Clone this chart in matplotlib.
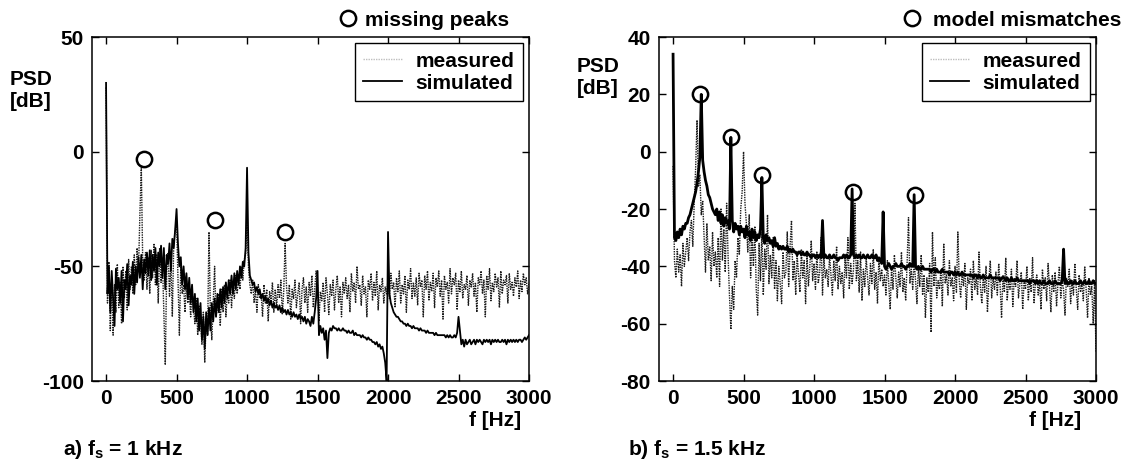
import numpy as np
import matplotlib
matplotlib.use("Agg")
import matplotlib.pyplot as plt

plt.rcParams['font.family'] = ['Liberation Sans', 'DejaVu Sans']
plt.rcParams['font.weight'] = 'bold'
plt.rcParams['font.size'] = 15
plt.rcParams['axes.unicode_minus'] = False

# --------------------------------------------------
# Datos (PSD en dB, rejilla de 10 Hz de 0 a 3000 Hz)
# --------------------------------------------------
freq_hz = np.arange(0, 3001, 10)

# a) fs = 1 kHz
meas_a = [
    28, -66, -48, -78, -55, -80, -58, -70, -49, -68,
    -57, -75, -50, -64, -52, -69, -47, -60, -50, -62,
    -45, -58, -42, -52, -27, -7, -48, -56, -44, -60,
    -46, -62, -43, -55, -40, -58, -45, -66, -42, -57,
    -48, -70, -93, -52, -44, -63, -47, -72, -40, -35,
    -30, -55, -80, -50, -62, -58, -70, -56, -66, -60,
    -72, -60, -68, -75, -64, -80, -67, -73, -84, -70,
    -92, -74, -80, -35, -70, -82, -66, -50, -72, -68,
    -62, -76, -60, -70, -58, -72, -61, -66, -56, -68,
    -58, -64, -54, -62, -55, -60, -50, -56, -47, -45,
    -30, -50, -58, -62, -56, -66, -60, -70, -58, -64,
    -62, -72, -58, -66, -60, -74, -61, -65, -57, -70,
    -60, -68, -58, -64, -56, -71, -61, -40, -59, -66,
    -58, -73, -60, -64, -56, -68, -62, -57, -75, -60,
    -55, -66, -59, -70, -57, -63, -54, -68, -60, -52,
    -58, -74, -61, -65, -57, -70, -55, -62, -71, -58,
    -63, -56, -69, -60, -54, -66, -59, -72, -57, -62,
    -55, -64, -58, -70, -53, -61, -57, -66, -50, -60,
    -58, -67, -54, -62, -59, -72, -56, -60, -53, -65,
    -57, -63, -52, -69, -58, -61, -55, -66, -59, -62,
    -56, -64, -53, -60, -57, -68, -55, -61, -52, -66,
    -58, -62, -54, -70, -56, -60, -51, -64, -57, -63,
    -55, -67, -53, -59, -56, -72, -54, -60, -52, -65,
    -57, -61, -53, -68, -55, -59, -52, -63, -56, -73,
    -54, -60, -57, -66, -51, -62, -55, -58, -53, -69,
    -56, -61, -52, -64, -58, -60, -54, -67, -56, -59,
    -53, -63, -57, -70, -55, -58, -52, -62, -56, -72,
    -54, -60, -51, -65, -57, -61, -53, -59, -55, -68,
    -52, -62, -56, -58, -54, -66, -53, -60, -57, -63,
    -55, -59, -52, -64, -56, -61, -53, -58, -55, -62,
    -57,
]
sim_a = [
    30, -62, -50, -70, -52, -64, -76, -51, -60, -55,
    -66, -52, -74, -56, -60, -49, -67, -54, -58, -48,
    -62, -50, -57, -46, -55, -45, -60, -47, -53, -44,
    -54, -43, -56, -45, -52, -42, -58, -44, -50, -41,
    -55, -42, -60, -45, -49, -40, -52, -38, -42, -34,
    -25, -40, -50, -46, -58, -50, -60, -53, -64, -55,
    -66, -58, -70, -62, -74, -64, -78, -66, -82, -72,
    -86, -70, -80, -68, -78, -66, -74, -64, -72, -62,
    -70, -60, -68, -59, -66, -57, -64, -56, -62, -54,
    -62, -53, -60, -52, -58, -50, -55, -48, -50, -42,
    -7, -44, -54, -56, -58, -57, -61, -59, -62, -60,
    -64, -62, -65, -63, -66, -64, -67, -65, -68, -66,
    -68, -67, -69, -67, -70, -68, -70, -69, -71, -69,
    -71, -70, -72, -70, -72, -71, -73, -71, -73, -72,
    -74, -72, -75, -73, -74, -76, -72, -75, -70, -64,
    -52, -80, -76, -79, -77, -82, -78, -90, -79, -77,
    -78, -76, -77, -77, -78, -77, -78, -78, -77, -78,
    -78, -79, -78, -79, -79, -78, -80, -79, -80, -80,
    -80, -81, -80, -81, -81, -82, -81, -82, -82, -83,
    -83, -84, -83, -85, -84, -86, -85, -88, -92, -100,
    -35, -62, -66, -68, -70, -71, -72, -72, -73, -74,
    -74, -75, -75, -76, -75, -76, -76, -77, -76, -77,
    -77, -77, -78, -77, -78, -78, -78, -79, -78, -79,
    -79, -79, -79, -80, -79, -80, -80, -80, -80, -80,
    -80, -81, -80, -81, -80, -81, -81, -80, -81, -79,
    -72, -78, -84, -82, -85, -82, -84, -83, -82, -84,
    -83, -82, -84, -82, -83, -82, -83, -84, -82, -83,
    -82, -83, -82, -84, -82, -83, -82, -83, -82, -83,
    -83, -82, -83, -82, -84, -82, -83, -82, -83, -82,
    -83, -82, -83, -82, -82, -83, -82, -81, -82, -81,
    -80,
]
peaks_a_hz = [272, 773, 1270]
peaks_a_db = [-3, -30, -35]

# b) fs = 1.5 kHz
meas_b = [
    -5, -38, -44, -34, -42, -36, -47, -32, -40, -35,
    -30, -38, -28, -24, -33, -18, -6, 11, -12, -8,
    -22, -17, -30, -42, -25, -38, -33, -45, -28, -40,
    -35, -44, -30, -47, -20, -38, -27, -42, -18, -36,
    -50, -62, -47, -55, -38, -44, -30, -36, -20, -14,
    0, -18, -25, -35, -22, -44, -30, -40, -26, -48,
    -57, -32, -45, -28, -50, -34, -41, -22, -46, -36,
    -44, -30, -48, -38, -52, -40, -46, -53, -35, -44,
    -42, -28, -47, -33, -24, -45, -38, -50, -36, -43,
    -49, -34, -44, -38, -53, -36, -47, -40, -31, -45,
    -39, -48, -35, -46, -42, -30, -50, -37, -44, -41,
    -47, -36, -43, -50, -38, -45, -33, -48, -40, -46,
    -42, -51, -37, -44, -30, -48, -39, -46, -41, -18,
    -45, -38, -49, -35, -52, -41, -47, -37, -44, -50,
    -39, -46, -34, -48, -42, -53, -37, -45, -41, -47,
    -43, -50, -38, -46, -55, -40, -48, -36, -44, -51,
    -42, -47, -35, -49, -44, -52, -39, -23, -46, -41,
    -48, -38, -45, -53, -40, -47, -36, -50, -43, -58,
    -44, -49, -39, -63, -28, -47, -37, -51, -45, -48,
    -41, -54, -32, -46, -43, -50, -38, -47, -44, -52,
    -40, -49, -28, -45, -51, -42, -47, -39, -55, -44,
    -46, -41, -52, -38, -48, -44, -50, -35, -47, -53,
    -43, -49, -40, -56, -45, -38, -51, -44, -48, -42,
    -50, -39, -47, -58, -43, -49, -37, -52, -45, -48,
    -41, -54, -44, -47, -38, -51, -46, -42, -55, -45,
    -48, -40, -52, -44, -49, -37, -53, -46, -43, -50,
    -45, -55, -41, -48, -44, -52, -39, -47, -56, -43,
    -49, -42, -54, -46, -40, -51, -45, -48, -57, -44,
    -47, -41, -53, -45, -50, -39, -48, -55, -43, -49,
    -46, -52, -40, -48, -58, -44, -50, -47, -60, -45,
    -70,
]
sim_b = [
    34, -30, -31, -28, -30, -27, -29, -26, -27, -25,
    -25, -23, -22, -20, -18, -16, -14, -11, -7, -2,
    20, -3, -7, -10, -12, -15, -16, -18, -20, -21,
    -22, -20, -24, -21, -25, -22, -26, -23, -25, -24,
    -27, 5, -24, -28, -25, -27, -26, -29, -26, -28,
    -27, -30, -26, -29, -28, -31, -27, -30, -28, -31,
    -29, -30, -27, -9, -30, -32, -29, -31, -30, -32,
    -31, -33, -30, -33, -32, -34, -33, -34, -33, -34,
    -34, -33, -35, -34, -35, -34, -35, -35, -36, -35,
    -35, -36, -35, -36, -36, -35, -36, -36, -37, -36,
    -36, -37, -36, -37, -36, -37, -24, -37, -36, -37,
    -37, -36, -37, -37, -36, -37, -37, -38, -37, -37,
    -37, -36, -37, -36, -37, -37, -36, -13, -36, -37,
    -36, -37, -36, -37, -37, -36, -37, -37, -36, -37,
    -37, -36, -37, -37, -36, -38, -37, -38, -39, -21,
    -40, -41, -40, -39, -40, -41, -40, -40, -39, -40,
    -40, -40, -39, -40, -40, -41, -40, -40, -39, -40,
    -40, -15, -40, -41, -40, -41, -41, -40, -41, -41,
    -41, -41, -41, -42, -41, -41, -42, -41, -42, -42,
    -42, -41, -42, -42, -42, -42, -43, -42, -42, -43,
    -42, -43, -42, -43, -43, -42, -43, -43, -43, -43,
    -43, -43, -43, -44, -43, -43, -44, -43, -44, -44,
    -43, -44, -44, -44, -44, -43, -44, -44, -44, -44,
    -44, -44, -45, -44, -44, -44, -45, -44, -45, -45,
    -44, -45, -45, -45, -44, -45, -45, -45, -45, -45,
    -45, -45, -45, -46, -45, -45, -45, -46, -45, -46,
    -45, -46, -46, -45, -46, -46, -46, -45, -46, -46,
    -46, -45, -46, -46, -46, -46, -45, -34, -46, -45,
    -46, -46, -45, -46, -46, -45, -46, -46, -46, -45,
    -46, -46, -45, -46, -46, -45, -46, -46, -45, -46,
    -46,
]
peaks_b_hz = [194, 413, 629, 1275, 1714]
peaks_b_db = [20, 5, -8, -14, -15]

# --------------------------------------------------
# Figura
# --------------------------------------------------
fig = plt.figure(figsize=(11.34, 4.61), dpi=100)
ax_a = fig.add_axes([0.0811, 0.1735, 0.3854, 0.7462])
ax_b = fig.add_axes([0.5811, 0.1735, 0.3854, 0.7462])

panels = [
    (ax_a, meas_a, sim_a, peaks_a_hz, peaks_a_db, "missing peaks",
     (-100, 50), [-100, -50, 0, 50], 1.3, 509, 0.3),
    (ax_b, meas_b, sim_b, peaks_b_hz, peaks_b_db, "model mismatches",
     (-80, 40), [-80, -60, -40, -20, 0, 20, 40], 2.0, 1121, 0.5),
]

for ax, meas, sim, pk_f, pk_db, pk_label, ylim, yticks, sim_lw, pk_right, pk_pad in panels:
    l_meas, = ax.plot(freq_hz, meas, color='0.1', lw=1.0, ls=(0, (1, 0.8)),
                      label="measured")
    l_sim, = ax.plot(freq_hz, sim, color='k', lw=sim_lw, label="simulated")
    circ, = ax.plot(pk_f, pk_db, 'o', mfc='none', mec='k', ms=11, mew=1.8,
                    label=pk_label)

    ax.set_xlim(-100, 3000)
    ax.set_ylim(*ylim)
    ax.set_xticks([0, 500, 1000, 1500, 2000, 2500, 3000])
    ax.set_yticks(yticks)
    ax.tick_params(direction='in', top=True, right=True, length=5, width=1,
                   labelsize=15, pad=6)
    for s in ax.spines.values():
        s.set_linewidth(1.1)

    leg = ax.legend(handles=[l_meas, l_sim], loc='upper right',
                    bbox_to_anchor=(1, 1), borderaxespad=0.3, borderpad=0.4,
                    labelspacing=0.15, handlelength=1.85, handletextpad=0.65,
                    fancybox=False, edgecolor='k', framealpha=1, fontsize=15)
    leg.get_frame().set_linewidth(1.0)
    leg.get_lines()[0].set_color('0.75')
    leg.get_lines()[1].set_linewidth(1.3)
    ax.add_artist(leg)
    ax.legend(handles=[circ], loc='center right',
              bbox_to_anchor=(pk_right / 1134, 1 - 20 / 461),
              bbox_transform=fig.transFigure, frameon=False, borderpad=0,
              borderaxespad=0, handlelength=1.0, handletextpad=pk_pad,
              fontsize=15)

# Etiquetas
fig.text(10 / 1134, 1 - 70 / 461, "PSD\n[dB]", ha='left', va='top',
         fontsize=15, linespacing=1.2)
fig.text(577 / 1134, 1 - 57 / 461, "PSD\n[dB]", ha='left', va='top',
         fontsize=15, linespacing=1.2)
fig.text(521 / 1134, 1 - 420 / 461, "f [Hz]", ha='right', va='center', fontsize=15)
fig.text(1081 / 1134, 1 - 420 / 461, "f [Hz]", ha='right', va='center', fontsize=15)
fig.text(63 / 1134, 1 - 449 / 461, r"a) $\mathregular{f_s}$ = 1 kHz",
         ha='left', va='center', fontsize=15)
fig.text(628 / 1134, 1 - 449 / 461, r"b) $\mathregular{f_s}$ = 1.5 kHz",
         ha='left', va='center', fontsize=15)

fig.savefig("out.png", dpi=100)
